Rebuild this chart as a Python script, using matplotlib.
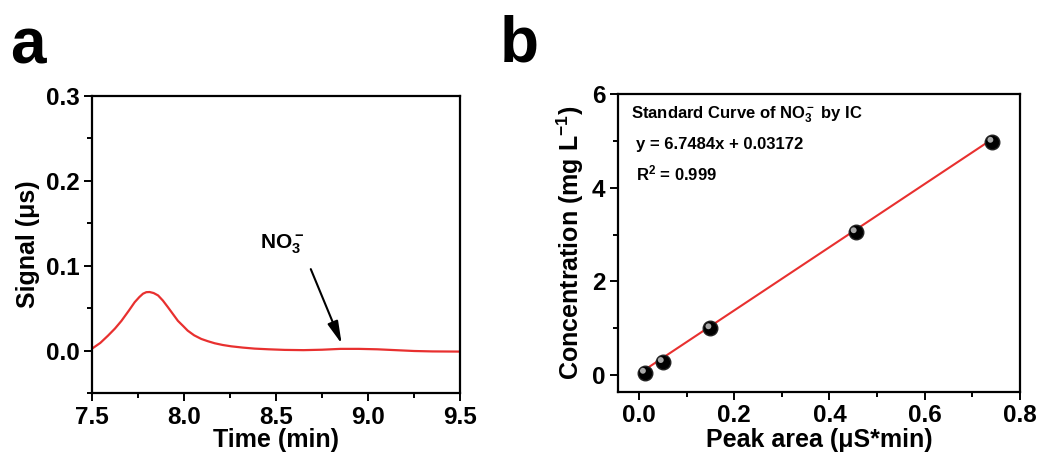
import numpy as np
import matplotlib
matplotlib.use("Agg")
import matplotlib.pyplot as plt
from matplotlib.ticker import MultipleLocator
import matplotlib.transforms as mtrans

plt.rcParams['font.family'] = ['Liberation Sans', 'DejaVu Sans']
plt.rcParams['font.weight'] = 'bold'
plt.rcParams['mathtext.fontset'] = 'custom'
plt.rcParams['mathtext.rm'] = 'Liberation Sans:bold'
plt.rcParams['mathtext.it'] = 'Liberation Sans:bold'
plt.rcParams['mathtext.bf'] = 'Liberation Sans:bold'
plt.rcParams['mathtext.default'] = 'regular'

# Panel a: chromatogram
time_min = [7.505, 7.545, 7.587, 7.625, 7.66, 7.70, 7.732, 7.757, 7.777, 7.795, 7.813,
            7.835, 7.859, 7.885, 7.913, 7.94, 7.967, 7.995, 8.02, 8.055, 8.094, 8.13,
            8.167, 8.21, 8.257, 8.32, 8.384, 8.46, 8.547, 8.65, 8.75, 8.85, 8.95,
            9.05, 9.15, 9.25, 9.35, 9.5]
signal = [0.003, 0.009, 0.0176, 0.026, 0.035, 0.047, 0.057, 0.063, 0.067, 0.0688, 0.069,
          0.0678, 0.065, 0.059, 0.051, 0.043, 0.035, 0.029, 0.0235, 0.018, 0.0137, 0.011,
          0.0086, 0.0066, 0.005, 0.0035, 0.0023, 0.0015, 0.0008, 0.0005, 0.001, 0.002, 0.002,
          0.0015, 0.0005, -0.0005, -0.001, -0.0012]

# Panel b: standard curve
peak_area = [0.0125, 0.05, 0.15, 0.455, 0.742]
concentration = [0.05, 0.28, 1.0, 3.05, 4.98]
slope, intercept = 6.7484, 0.03172

fig = plt.figure(figsize=(10.45, 4.59), dpi=100)
W, H = 1045, 459
axa = fig.add_axes([92 / W, 1 - 393 / H, (460 - 92) / W, (393 - 96) / H])
axb = fig.add_axes([618 / W, 1 - 392 / H, (1020 - 618) / W, (392 - 94) / H])

TICK_FS = 17.5
LAB_FS = 18

for ax in (axa, axb):
    for s in ax.spines.values():
        s.set_linewidth(1.6)
    ax.tick_params(which='both', direction='out', width=1.4, top=False, right=False, pad=3)
    ax.tick_params(which='major', length=6)
    ax.tick_params(which='minor', length=3.5)

# Panel a
axa.plot(time_min, signal, color='#e8302f', lw=1.6)
axa.set_xlim(7.5, 9.5)
axa.set_ylim(-0.05, 0.3)
axa.set_xticks([7.5, 8.0, 8.5, 9.0, 9.5])
axa.set_xticklabels(['7.5', '8.0', '8.5', '9.0', '9.5'], fontweight='bold', fontsize=TICK_FS)
axa.xaxis.set_minor_locator(MultipleLocator(0.25))
axa.set_yticks([0.0, 0.1, 0.2, 0.3])
axa.set_yticklabels(['0.0', '0.1', '0.2', '0.3'], fontweight='bold', fontsize=TICK_FS)
axa.yaxis.set_minor_locator(MultipleLocator(0.05))
axa.set_xlabel('Time (min)', fontsize=LAB_FS, fontweight='bold', labelpad=0)
axa.set_ylabel('Signal (μs)', fontsize=LAB_FS, fontweight='bold', labelpad=4)
axa.annotate('', xy=(8.857, 0.008), xytext=(8.689, 0.096),
             arrowprops=dict(arrowstyle='-|>,head_length=0.9,head_width=0.22',
                             color='black', lw=1.5, mutation_scale=15,
                             shrinkA=0, shrinkB=0))
axa.text(8.535, 0.125, r'NO$_3^-$', fontsize=15, fontweight='bold', ha='center', va='center')

# Panel b
xfit = np.array([peak_area[0], peak_area[-1]])
axb.plot(xfit, slope * xfit + intercept, color='#e8302f', lw=1.5, zorder=2)
axb.scatter(peak_area, concentration, s=110, color='black', edgecolor='#222222', zorder=3)
hl = mtrans.offset_copy(axb.transData, fig=fig, x=-2, y=2, units='dots')
axb.scatter(peak_area, concentration, s=18, color='#bbbbbb', edgecolor='none', zorder=4,
            transform=hl, alpha=0.9)
axb.set_xlim(-0.044, 0.8)
axb.set_ylim(-0.36, 6)
axb.set_xticks([0.0, 0.2, 0.4, 0.6, 0.8])
axb.set_xticklabels(['0.0', '0.2', '0.4', '0.6', '0.8'], fontweight='bold', fontsize=TICK_FS)
axb.xaxis.set_minor_locator(MultipleLocator(0.1))
axb.set_yticks([0, 2, 4, 6])
axb.set_yticklabels(['0', '2', '4', '6'], fontweight='bold', fontsize=TICK_FS)
axb.yaxis.set_minor_locator(MultipleLocator(1))
axb.set_xlabel('Peak area (μS*min)', fontsize=LAB_FS, fontweight='bold', labelpad=0)
axb.set_ylabel(r'Concentration (mg L$^{-1}$)', fontsize=LAB_FS, fontweight='bold', labelpad=4)
axb.text(0.032, 0.93, r'Standard Curve of NO$_3^-$ by IC', transform=axb.transAxes,
         fontsize=12, fontweight='bold', va='center', ha='left')
axb.text(0.045, 0.83, 'y = 6.7484x + 0.03172', transform=axb.transAxes,
         fontsize=12, fontweight='bold', va='center', ha='left')
axb.text(0.045, 0.735, r'R$^2$ = 0.999', transform=axb.transAxes,
         fontsize=12, fontweight='bold', va='center', ha='left')

fig.text(10 / W, 1 - 47 / H, 'a', fontsize=46, fontweight='bold', va='center', ha='left')
fig.text(500 / W, 1 - 44 / H, 'b', fontsize=46, fontweight='bold', va='center', ha='left')

fig.savefig('out.png', dpi=100)
